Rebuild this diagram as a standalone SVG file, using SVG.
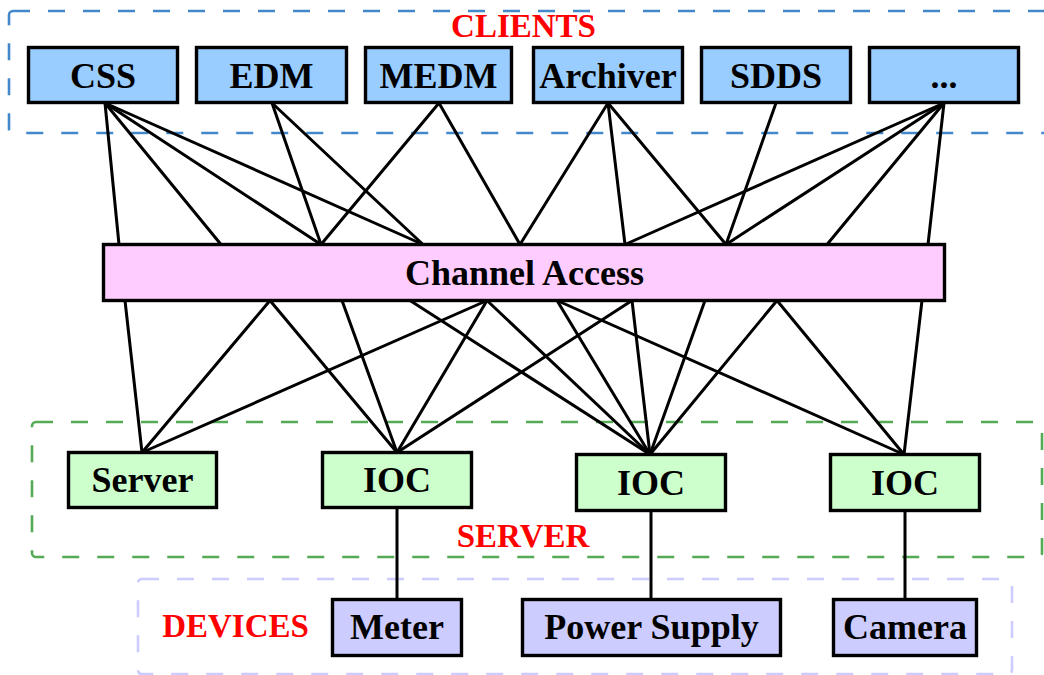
<svg xmlns="http://www.w3.org/2000/svg" width="1044" height="675" viewBox="0 0 1044 675">
  <style>
    .box { stroke: #000; stroke-width: 3.4; }
    .client { fill: #99ccff; }
    .ca { fill: #ffccff; }
    .srv { fill: #ccffcc; }
    .dev { fill: #ccccff; }
    .lbl { font-family: "Liberation Serif", "Times New Roman", serif; font-weight: bold; font-size: 36px; fill: #000; text-anchor: middle; }
    .grp { font-family: "Liberation Serif", "Times New Roman", serif; font-weight: bold; font-size: 33px; fill: #ff0000; text-anchor: middle; }
    .zone { fill: none; stroke-width: 2.6; stroke-dasharray: 17 18; }
    .conn line { stroke: #000; stroke-width: 3; stroke-linecap: round; }
  </style>

  <!-- grouping regions -->
  <g id="zones">
    <rect class="zone" x="9" y="11" width="1045" height="122" rx="4" stroke="#4488cc"/>
    <rect class="zone" x="32" y="422" width="1010" height="135" rx="4" stroke="#55aa55"/>
    <rect class="zone" x="138" y="579" width="874" height="95" rx="4" stroke="#ccccff"/>
  </g>

  <!-- connectors -->
  <g id="connectors" class="conn">
    <!-- clients to Channel Access -->
    <line x1="105" y1="103" x2="119" y2="244.5"/>
    <line x1="105" y1="103" x2="221" y2="244.5"/>
    <line x1="105" y1="103" x2="321" y2="244.5"/>
    <line x1="105" y1="103" x2="423" y2="244.5"/>
    <line x1="272" y1="103" x2="321" y2="244.5"/>
    <line x1="272" y1="103" x2="423" y2="244.5"/>
    <line x1="439" y1="103" x2="321" y2="244.5"/>
    <line x1="439" y1="103" x2="520" y2="244.5"/>
    <line x1="608" y1="103" x2="520" y2="244.5"/>
    <line x1="608" y1="103" x2="625" y2="244.5"/>
    <line x1="608" y1="103" x2="726" y2="244.5"/>
    <line x1="776" y1="103" x2="726" y2="244.5"/>
    <line x1="944" y1="103" x2="625" y2="244.5"/>
    <line x1="944" y1="103" x2="726" y2="244.5"/>
    <line x1="944" y1="103" x2="827" y2="244.5"/>
    <line x1="944" y1="103" x2="928" y2="244.5"/>
    <!-- Channel Access to servers -->
    <line x1="125" y1="300.5" x2="142" y2="452.5"/>
    <line x1="270" y1="300.5" x2="142" y2="452.5"/>
    <line x1="487" y1="300.5" x2="142" y2="452.5"/>
    <line x1="270" y1="300.5" x2="397" y2="452.5"/>
    <line x1="342" y1="300.5" x2="397" y2="452.5"/>
    <line x1="487" y1="300.5" x2="397" y2="452.5"/>
    <line x1="632" y1="300.5" x2="397" y2="452.5"/>
    <line x1="410" y1="300.5" x2="650" y2="454.5"/>
    <line x1="487" y1="300.5" x2="650" y2="454.5"/>
    <line x1="557" y1="300.5" x2="650" y2="454.5"/>
    <line x1="632" y1="300.5" x2="650" y2="454.5"/>
    <line x1="705" y1="300.5" x2="650" y2="454.5"/>
    <line x1="777" y1="300.5" x2="650" y2="454.5"/>
    <line x1="557" y1="300.5" x2="904" y2="454.5"/>
    <line x1="777" y1="300.5" x2="904" y2="454.5"/>
    <line x1="922" y1="300.5" x2="904" y2="454.5"/>
    <!-- IOCs to devices -->
    <line x1="397" y1="507.5" x2="397" y2="599.5"/>
    <line x1="651" y1="510.5" x2="651" y2="599.5"/>
    <line x1="905" y1="510.5" x2="905" y2="599.5"/>
  </g>

  <!-- clients -->
  <g id="css"><rect class="box client" x="28.5" y="47.5" width="149" height="55"/><text class="lbl" x="103" y="88">CSS</text></g>
  <g id="edm"><rect class="box client" x="196.5" y="47.5" width="150" height="55"/><text class="lbl" x="271.5" y="88">EDM</text></g>
  <g id="medm"><rect class="box client" x="365.5" y="47.5" width="146" height="55"/><text class="lbl" x="438.5" y="88">MEDM</text></g>
  <g id="archiver"><rect class="box client" x="533.5" y="47.5" width="149" height="55"/><text class="lbl" x="608" y="88">Archiver</text></g>
  <g id="sdds"><rect class="box client" x="701.5" y="47.5" width="149" height="55"/><text class="lbl" x="776" y="88">SDDS</text></g>
  <g id="more"><rect class="box client" x="869.5" y="47.5" width="149" height="55"/><text class="lbl" x="944" y="88">...</text></g>

  <!-- middleware -->
  <g id="channel-access"><rect class="box ca" x="103.5" y="244.5" width="841" height="56"/><text class="lbl" x="524.5" y="285">Channel Access</text></g>

  <!-- servers -->
  <g id="server"><rect class="box srv" x="68.5" y="452.5" width="148" height="55"/><text class="lbl" x="142.5" y="492">Server</text></g>
  <g id="ioc1"><rect class="box srv" x="322.5" y="452.5" width="149" height="55"/><text class="lbl" x="397" y="492">IOC</text></g>
  <g id="ioc2"><rect class="box srv" x="576.5" y="454.5" width="149" height="56"/><text class="lbl" x="651" y="495">IOC</text></g>
  <g id="ioc3"><rect class="box srv" x="830.5" y="454.5" width="149" height="56"/><text class="lbl" x="905" y="495">IOC</text></g>

  <!-- devices -->
  <g id="meter"><rect class="box dev" x="332.5" y="599.5" width="129" height="56"/><text class="lbl" x="397" y="639">Meter</text></g>
  <g id="power-supply"><rect class="box dev" x="522.5" y="599.5" width="258" height="56"/><text class="lbl" x="651.5" y="639">Power Supply</text></g>
  <g id="camera"><rect class="box dev" x="833.5" y="599.5" width="143" height="56"/><text class="lbl" x="905" y="639">Camera</text></g>

  <!-- region titles -->
  <g id="titles">
    <text class="grp" x="523.5" y="37">CLIENTS</text>
    <text class="grp" x="523" y="547">SERVER</text>
    <text class="grp" x="235.5" y="637">DEVICES</text>
  </g>
</svg>
